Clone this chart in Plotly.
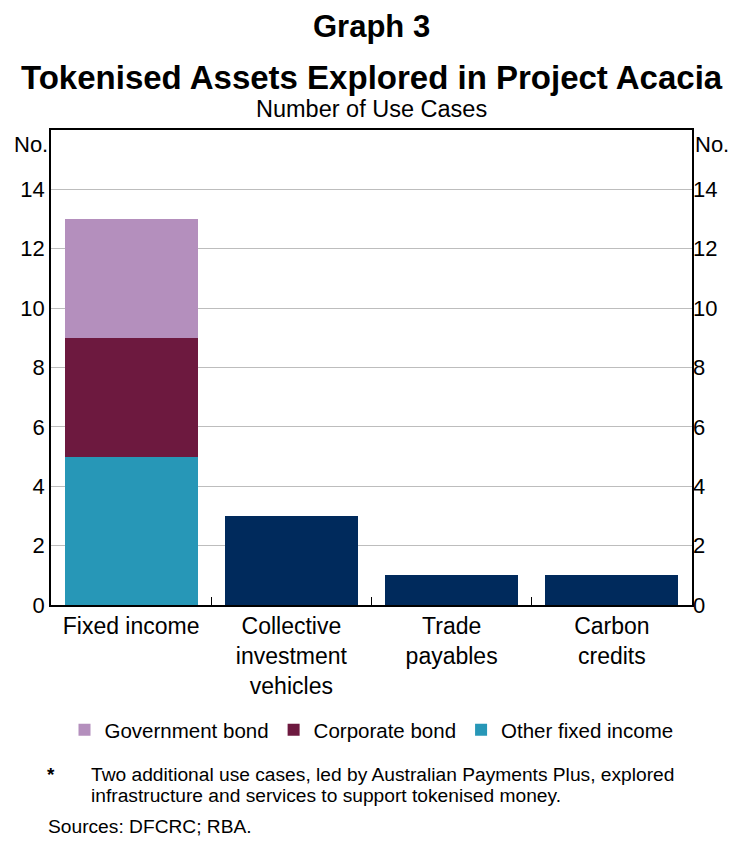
import plotly.graph_objects as go

categories = ["Fixed income", "Collective<br>investment<br>vehicles", "Trade<br>payables", "Carbon<br>credits"]
other_fixed_income = [5, None, None, None]
corporate_bond = [4, None, None, None]
government_bond = [4, None, None, None]
other_assets = [None, 3, 1, 1]
y_ticks = [0, 2, 4, 6, 8, 10, 12, 14]

FONT = "Liberation Sans, Arial, sans-serif"

# figure geometry (page has 8px body margin, so figure is reduced by 8px)
W, H = 729, 834
L, R, T, B = 39, 45, 122, 237
PW = W - L - R
PH = H - T - B


def px(xpix):
    return (xpix - L) / PW


def py(ypix):
    return 1 - (ypix - T) / PH


fig = go.Figure()
fig.add_trace(go.Bar(x=categories, y=other_fixed_income, name="Other fixed income",
                     marker=dict(color="#2797B7", line=dict(width=0))))
fig.add_trace(go.Bar(x=categories, y=corporate_bond, name="Corporate bond",
                     marker=dict(color="#6D193F", line=dict(width=0))))
fig.add_trace(go.Bar(x=categories, y=government_bond, name="Government bond",
                     marker=dict(color="#B48FBD", line=dict(width=0))))
fig.add_trace(go.Bar(x=categories, y=other_assets, name="Other", showlegend=False,
                     marker=dict(color="#002A5C", line=dict(width=0))))
# invisible trace for right axis
fig.add_trace(go.Scatter(x=categories, y=[0, 0, 0, 0], yaxis="y2", mode="markers",
                         marker=dict(opacity=0), showlegend=False, hoverinfo="skip"))

fig.update_layout(
    width=W, height=H,
    margin=dict(l=L, r=R, t=T, b=B, pad=0),
    paper_bgcolor="white", plot_bgcolor="white",
    barmode="stack", bargap=0.17,
    font=dict(family=FONT, size=20, color="black"),
    showlegend=True,
    legend=dict(orientation="h", x=0.5, xanchor="center", y=py(722), yanchor="middle",
                traceorder="reversed", font=dict(size=20.5), itemwidth=30,
                tracegroupgap=0),
    xaxis=dict(showgrid=False, showline=True, linecolor="black", linewidth=1.5, mirror=True,
               ticks="inside", ticklen=8, tickcolor="black", tickson="boundaries",
               tickfont=dict(size=23), fixedrange=True),
    yaxis=dict(range=[0, 16], tickvals=y_ticks, showgrid=True, gridcolor="#BDBDBD", gridwidth=1.2,
               showline=True, linecolor="black", linewidth=1.5, mirror=True,
               ticks="", tickfont=dict(size=22), zeroline=False),
    yaxis2=dict(range=[0, 16], tickvals=y_ticks, overlaying="y", side="right", showgrid=False,
                showline=False, ticks="", tickfont=dict(size=22), zeroline=False),
)


def note(text, x, y, size, xanchor="center", bold=False, yanchor="middle"):
    fig.add_annotation(text=f"<b>{text}</b>" if bold else text, xref="paper", yref="paper",
                       x=x, y=y, xanchor=xanchor, yanchor=yanchor, showarrow=False, align="left",
                       borderpad=0,
                       font=dict(family=FONT, size=size, color="black"))


note("Graph 3", 0.5, py(0), 31, bold=True, yanchor="top")
note("Tokenised Assets Explored in Project Acacia", 0.5, py(69), 33, bold=True)
note("Number of Use Cases", 0.5, py(101), 23.5)

fig.add_annotation(text="No.", xref="paper", yref="paper", x=0, y=1, xanchor="right", yanchor="top",
                   xshift=-1, showarrow=False, font=dict(family=FONT, size=22, color="black"))
fig.add_annotation(text="No.", xref="paper", yref="paper", x=1, y=1, xanchor="left", yanchor="top",
                   xshift=1, showarrow=False, font=dict(family=FONT, size=22, color="black"))

note("*", px(39), py(766), 19, bold=True)
note("Two additional use cases, led by Australian Payments Plus, explored", px(78), py(766), 19.2, xanchor="left")
note("infrastructure and services to support tokenised money.", px(78), py(787), 19.2, xanchor="left")
note("Sources: DFCRC; RBA.", px(35), py(818), 19.2, xanchor="left")

fig.write_html("out.html")
